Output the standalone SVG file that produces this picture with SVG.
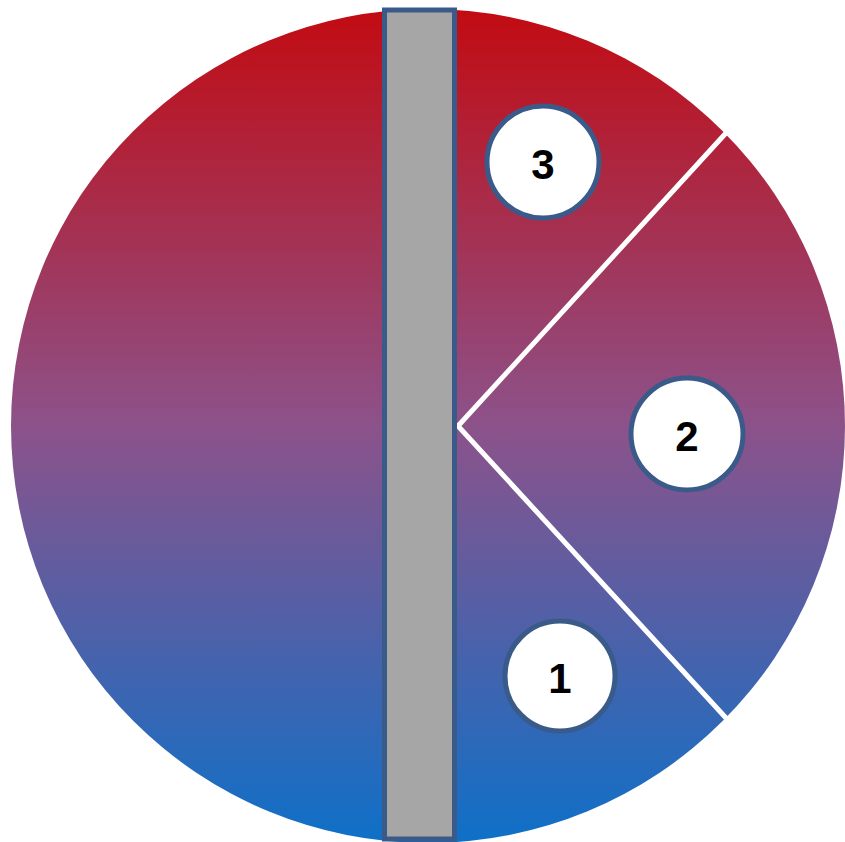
<svg xmlns="http://www.w3.org/2000/svg" width="845" height="842" viewBox="0 0 845 842">
<defs>
<linearGradient id="g" x1="0" y1="0" x2="0" y2="1">
<stop offset="0" stop-color="#C20B12"/>
<stop offset="0.5" stop-color="#8C528A"/>
<stop offset="1" stop-color="#0E70C8"/>
</linearGradient>
<style>
.lbl{fill:#fff;stroke:#3A5A8A;stroke-width:5}
.t{font-family:"Liberation Sans",Arial,sans-serif;font-weight:bold;font-size:42px;fill:#000;text-anchor:middle;dominant-baseline:central}
</style>
</defs>
<g id="disc"><circle cx="428" cy="426" r="417" fill="url(#g)"/></g>
<g id="connectors" stroke="#fff" stroke-width="5" fill="none">
<polyline points="726,133 458,426 726,718"/>
</g>
<g id="bar"><rect x="384.5" y="10" width="70" height="829" fill="#A6A6A6" stroke="#3A5A8A" stroke-width="5"/></g>
<g id="n3"><circle class="lbl" cx="543" cy="162" r="56"/><text class="t" x="543" y="164">3</text></g>
<g id="n2"><circle class="lbl" cx="687" cy="434" r="56"/><text class="t" x="687" y="436">2</text></g>
<g id="n1"><circle class="lbl" cx="560" cy="676" r="55"/><text class="t" x="560" y="678">1</text></g>
</svg>
